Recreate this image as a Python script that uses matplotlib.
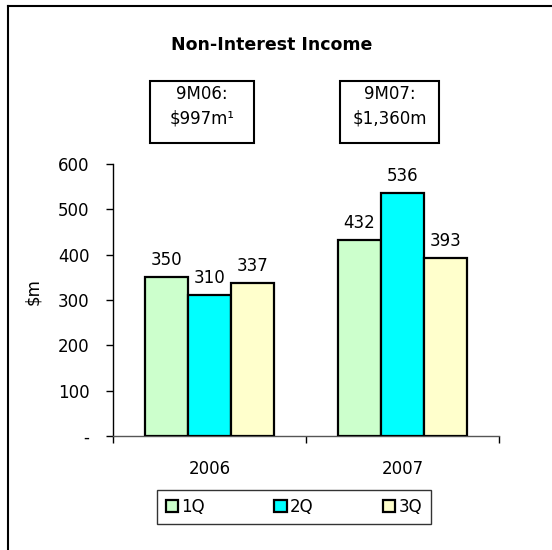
import matplotlib
matplotlib.use("Agg")
import matplotlib.pyplot as plt
from matplotlib.patches import Rectangle
import numpy as np

plt.rcParams['font.family'] = ['DejaVu Sans']

years = ["2006", "2007"]
quarters = ["1Q", "2Q", "3Q"]
values = {
    "1Q": [350, 432],
    "2Q": [310, 536],
    "3Q": [337, 393],
}
colors = {"1Q": "#CCFFCC", "2Q": "#00FFFF", "3Q": "#FFFFCC"}
y_ticks = [0, 100, 200, 300, 400, 500, 600]
y_tick_labels = ["-", "100", "200", "300", "400", "500", "600"]
totals = ["9M06:\n$997m\u00b9", "9M07:\n$1,360m"]

FS = 12

W, H = 552, 550
fig = plt.figure(figsize=(W / 100, H / 100), dpi=100)

def fx(px):
    return px / W

def fy(py):
    return 1 - py / H

ax = fig.add_axes([fx(113), fy(436), fx(499) - fx(113), fy(164) - fy(436)])

x = np.arange(len(years))
bw = 0.223
offsets = [-bw, 0, bw]
for q, off in zip(quarters, offsets):
    bars = ax.bar(x + off, values[q], width=bw, color=colors[q], edgecolor="black",
                  linewidth=1.6, label=q, zorder=3)
    for b, v in zip(bars, values[q]):
        ax.annotate(f"{v}", (b.get_x() + b.get_width() / 2, v), xytext=(0, 6),
                    textcoords="offset points", ha="center", va="bottom", fontsize=FS)

ax.set_xlim(-0.5, 1.5)
ax.set_ylim(0, 600)
ax.set_yticks(y_ticks)
ax.set_yticklabels(y_tick_labels, fontsize=FS)
ax.tick_params(axis="y", direction="out", length=5, width=1, pad=12)
ax.set_xticks([-0.5, 0.5, 1.5])
ax.set_xticklabels([])
ax.tick_params(axis="x", which="major", direction="out", length=5, width=1)
ax.set_xticks(x, minor=True)
ax.set_xticklabels(years, minor=True, fontsize=FS)
ax.tick_params(axis="x", which="minor", length=0, pad=17)
for s in ["top", "right"]:
    ax.spines[s].set_visible(False)
ax.spines["left"].set_linewidth(1)
ax.spines["bottom"].set_linewidth(1)
ax.spines["bottom"].set_color("#555555")

fig.text(fx(33), fy(292), "$m", rotation=90, ha="center", va="center", fontsize=FS)
fig.text(fx(272), fy(45), "Non-Interest Income", ha="center", va="center",
         fontsize=12.5, fontweight="bold")

# total boxes
box_px = [(150, 254), (340, 439)]
for (l, r), t in zip(box_px, totals):
    fig.patches.append(Rectangle((fx(l), fy(143)), fx(r) - fx(l), fy(81) - fy(143),
                                 transform=fig.transFigure, fill=False,
                                 edgecolor="black", linewidth=1.5))
    fig.text(fx((l + r) / 2), fy(106), t, ha="center", va="center", fontsize=FS,
             linespacing=1.45)

# outer border (top and left only)
fig.add_artist(plt.Line2D([fx(8), 1], [fy(5.5), fy(5.5)], color="black", lw=1.5,
                          transform=fig.transFigure))
fig.add_artist(plt.Line2D([fx(8), fx(8)], [fy(5.5), 0], color="black", lw=1.5,
                          transform=fig.transFigure))

leg = fig.legend(loc="center", bbox_to_anchor=(fx(294), fy(507)), ncol=3,
                 fontsize=FS, frameon=True, fancybox=False, handlelength=0.75,
                 handleheight=0.75, handletextpad=0.2, columnspacing=4.15,
                 borderpad=0.5, borderaxespad=0)
leg.get_frame().set_edgecolor("black")
leg.get_frame().set_linewidth(1)

fig.savefig("out.png", dpi=100, facecolor="white")
